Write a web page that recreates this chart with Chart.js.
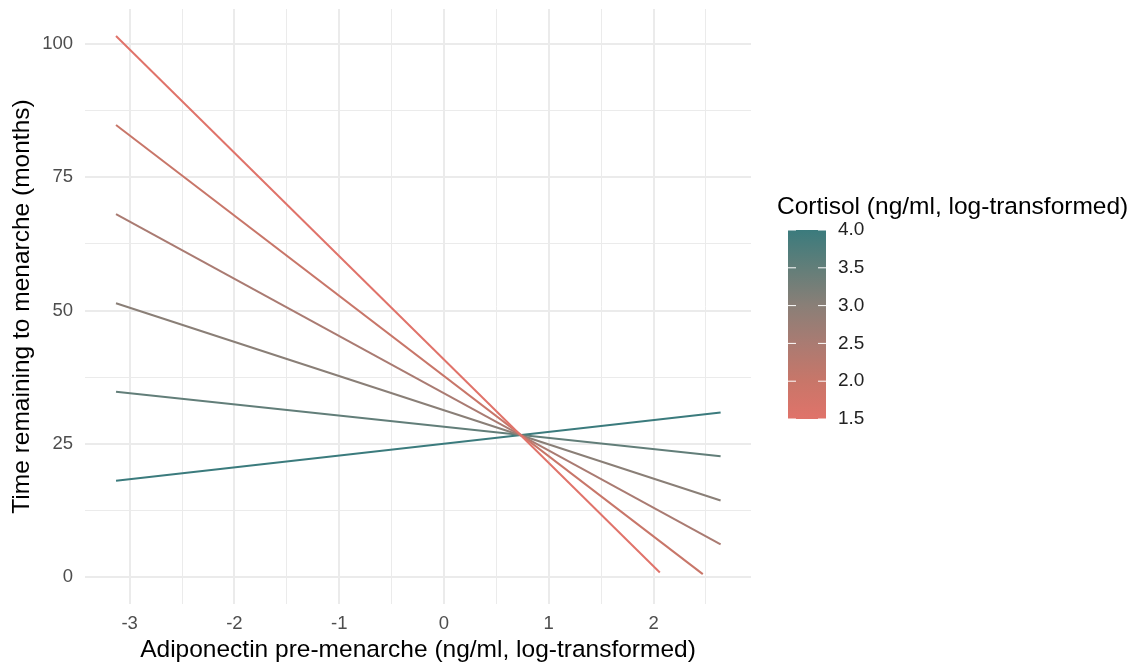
<!DOCTYPE html>
<html>
<head>
<meta charset="utf-8">
<script src="https://cdn.jsdelivr.net/npm/chart.js@4.4.1/dist/chart.umd.min.js"></script>
<style>
  html, body { margin: 0; padding: 0; background: #fff; }
  #wrap { width: 1141px; height: 663px; }
</style>
</head>
<body>
<div id="wrap"><canvas id="chart" width="1141" height="663"></canvas></div>
<script>
// cortisol levels (one line each) and the fitted line end points
const cortisolLevels = [1.5, 2.0, 2.5, 3.0, 3.5, 4.0];
const xStart = [-3.13, -3.13, -3.13, -3.13, -3.13, -3.13];
const xEnd = [2.06, 2.47, 2.64, 2.64, 2.64, 2.64];
const yStart = [101.5, 84.8, 68.1, 51.4, 34.8, 18.1];
const yEnd = [0.9, 0.6, 6.2, 14.4, 22.7, 30.9];
const lineColors = ['#E0736A', '#C87669', '#AA7B72', '#8A7F77', '#627E79', '#3B7B7D'];

const xTickLabels = [-3, -2, -1, 0, 1, 2];
const yTickLabels = [0, 25, 50, 75, 100];
const legendTicks = [1.5, 2.0, 2.5, 3.0, 3.5, 4.0];

const X_MIN = -3.426, X_MAX = 2.93;
const Y_MIN = -5.0, Y_MAX = 106.56;

const FONT = "'Liberation Sans', Arial, Helvetica, sans-serif";
const GRID = '#ebebeb';

// grid at major ticks plus the half-way minor lines, kept inside the range
function gridValues(major, step, lo, hi) {
  const out = [major[0] - step / 2];
  for (let i = 0; i < major.length; i++) {
    out.push(major[i]);
    out.push(major[i] + step / 2);
  }
  return out.filter(v => v >= lo && v <= hi);
}

const datasets = cortisolLevels.map((c, i) => ({
  label: String(c),
  data: [{ x: xStart[i], y: yStart[i] }, { x: xEnd[i], y: yEnd[i] }],
  borderColor: lineColors[i],
  borderWidth: 2,
  showLine: true,
  pointRadius: 0,
  fill: false
}));

const colorbarPlugin = {
  id: 'colorbar',
  afterDraw(chart) {
    const ctx = chart.ctx;
    const x0 = 788, x1 = 826, yTop = 230, yBot = 419;
    ctx.save();
    ctx.fillStyle = '#000';
    ctx.font = `24.5px ${FONT}`;
    ctx.textAlign = 'left';
    ctx.textBaseline = 'alphabetic';
    ctx.fillText('Cortisol (ng/ml, log-transformed)', 777, 214);

    const grad = ctx.createLinearGradient(0, yBot, 0, yTop);
    lineColors.forEach((c, i) => grad.addColorStop(i / (lineColors.length - 1), c));
    ctx.fillStyle = grad;
    ctx.fillRect(x0, yTop, x1 - x0, yBot - yTop);

    const vMin = legendTicks[0], vMax = legendTicks[legendTicks.length - 1];
    ctx.strokeStyle = '#fff';
    ctx.lineWidth = 1;
    ctx.fillStyle = '#222';
    ctx.font = `19px ${FONT}`;
    ctx.textBaseline = 'middle';
    legendTicks.forEach(v => {
      const y = yBot - (v - vMin) / (vMax - vMin) * (yBot - yTop);
      ctx.beginPath();
      ctx.moveTo(x0, y); ctx.lineTo(x0 + 8, y);
      ctx.moveTo(x1 - 8, y); ctx.lineTo(x1, y);
      ctx.stroke();
      ctx.fillText(v.toFixed(1), 838, y);
    });
    ctx.restore();
  }
};

new Chart(document.getElementById('chart'), {
  type: 'scatter',
  data: { datasets },
  options: {
    responsive: false,
    animation: false,
    layout: { padding: { top: 9, right: 390, left: 0, bottom: 0 } },
    plugins: { legend: { display: false }, tooltip: { enabled: false } },
    scales: {
      x: {
        type: 'linear',
        min: X_MIN,
        max: X_MAX,
        afterBuildTicks(axis) {
          axis.ticks = gridValues(xTickLabels, 1, X_MIN, X_MAX).map(v => ({ value: v }));
        },
        afterFit(axis) {
          axis.height = 59;
          axis.paddingLeft = 0;
          axis.paddingRight = 0;
        },
        grid: {
          color: GRID,
          lineWidth: c => (Number.isInteger(c.tick.value) ? 2 : 1),
          drawTicks: false
        },
        border: { display: false },
        ticks: {
          autoSkip: false,
          maxRotation: 0,
          padding: 9,
          color: '#4d4d4d',
          font: { family: FONT, size: 18.5 },
          callback: v => (xTickLabels.includes(v) ? String(v) : '')
        },
        title: {
          display: true,
          text: 'Adiponectin pre-menarche (ng/ml, log-transformed)',
          color: '#000',
          font: { family: FONT, size: 24.5 },
          padding: { top: 0, bottom: -2 }
        }
      },
      y: {
        type: 'linear',
        min: Y_MIN,
        max: Y_MAX,
        afterBuildTicks(axis) {
          axis.ticks = gridValues(yTickLabels, 25, Y_MIN, Y_MAX).map(v => ({ value: v }));
        },
        afterFit(axis) {
          axis.width = 85;
          axis.paddingTop = 0;
          axis.paddingBottom = 0;
        },
        grid: {
          color: GRID,
          lineWidth: c => (yTickLabels.includes(c.tick.value) ? 2 : 1),
          drawTicks: false
        },
        border: { display: false },
        ticks: {
          autoSkip: false,
          padding: 12,
          color: '#4d4d4d',
          font: { family: FONT, size: 18.5 },
          callback: v => (yTickLabels.includes(v) ? String(v) : '')
        },
        title: {
          display: true,
          text: 'Time remaining to menarche (months)',
          color: '#000',
          font: { family: FONT, size: 24.5 },
          padding: { top: 8, bottom: 0 }
        }
      }
    }
  },
  plugins: [colorbarPlugin]
});
</script>
</body>
</html>
